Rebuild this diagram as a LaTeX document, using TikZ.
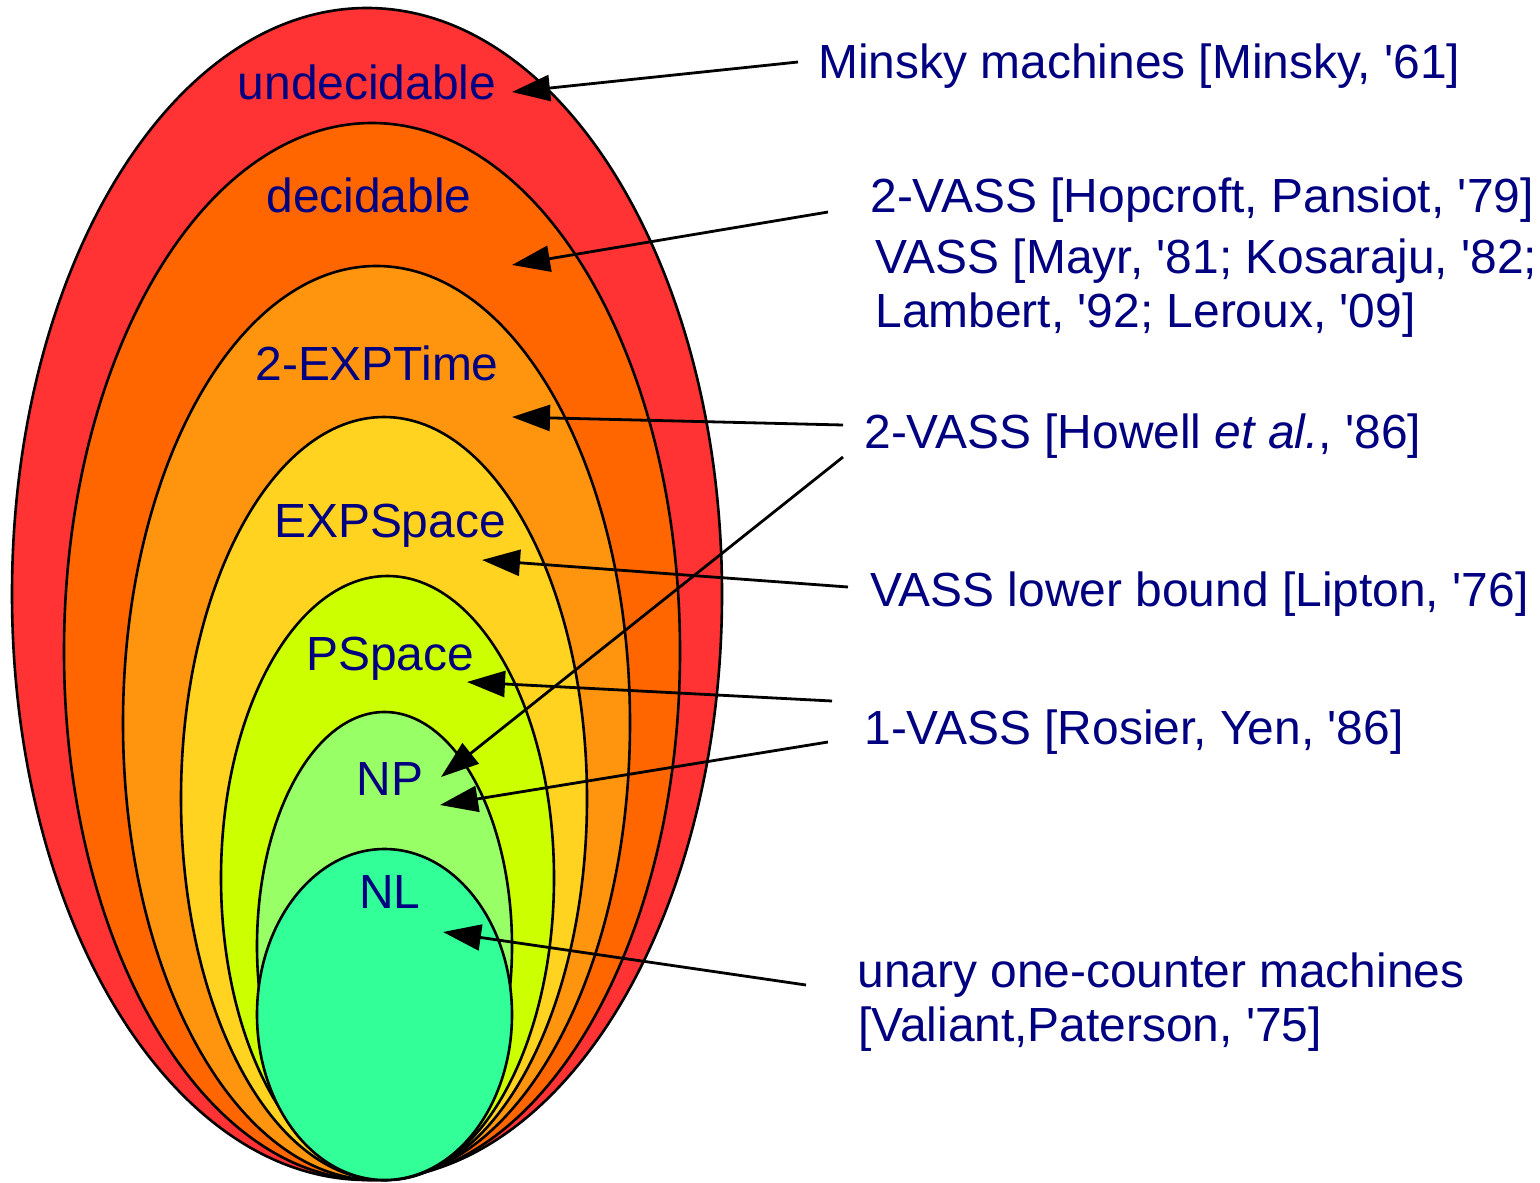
\documentclass[tikz,border=0pt]{standalone}
\usepackage{fontspec}
\setmainfont{Liberation Sans}[Ligatures=TeXOff]
\usetikzlibrary{arrows.meta}
\definecolor{cUndec}{HTML}{FF3333}
\definecolor{cDec}{HTML}{FF6600}
\definecolor{cTwoExp}{HTML}{FF950E}
\definecolor{cExpSp}{HTML}{FFD320}
\definecolor{cPSp}{HTML}{CCFF00}
\definecolor{cNP}{HTML}{99FF66}
\definecolor{cNL}{HTML}{33FF99}
\definecolor{txtnavy}{HTML}{000080}
\begin{document}
\begin{tikzpicture}[x=0.5pt,y=-0.5pt,
  region/.style={draw=black,line width=1.3pt},
  lab/.style={text=txtnavy,font=\fontsize{23.95}{28}\selectfont,inner sep=0pt,anchor=base},
  refl/.style={text=txtnavy,font=\fontsize{23.95}{28}\selectfont,inner sep=0pt,anchor=base west},
  pointer/.style={draw=black,line width=1.4pt,-{Triangle[length=19pt,width=13pt]}}]
\useasboundingbox (0,0) rectangle (1540,1182);
\fill[white] (0,0) rectangle (1540,1182);
% nested regions
\draw[region,fill=cUndec]  (367,594)   ellipse [x radius=177.5pt, y radius=293pt];
\draw[region,fill=cDec]    (372,651.5) ellipse [x radius=154pt,   y radius=264.25pt];
\draw[region,fill=cTwoExp] (376.5,723) ellipse [x radius=126.75pt,y radius=228.5pt];
\draw[region,fill=cExpSp]  (384,798.5) ellipse [x radius=101.5pt, y radius=190.75pt];
\draw[region,fill=cPSp]    (387.5,878) ellipse [x radius=83.25pt, y radius=151pt];
\draw[region,fill=cNP]     (384.5,946) ellipse [x radius=63.75pt, y radius=117pt];
\draw[region,fill=cNL]     (384.5,1014.5) ellipse [x radius=63.75pt, y radius=82.75pt];
% class labels
\node[lab] (undec)  at (367,100) {undecidable};
\node[lab] (dec)    at (369,213) {decidable};
\node[lab] (twoexp) at (377,380) {2-EXPTime};
\node[lab] (expsp)  at (390,537) {EXPSpace};
\node[lab] (psp)    at (390,670) {PSpace};
\node[lab] (np)     at (390,795) {NP};
\node[lab] (nl)     at (390,908) {NL};
% references
\node[refl] (minsky)  at (818,79)   {Minsky machines [Minsky, '61]};
\node[refl] (hop)     at (870,213)  {2-VASS [Hopcroft, Pansiot, '79]};
\node[refl] (mayr)    at (875,273)  {VASS [Mayr, '81; Kosaraju, '82;};
\node[refl] (lambert) at (875,327)  {Lambert, '92; Leroux, '09]};
\node[refl] (howell)  at (864,448)  {2-VASS [Howell \textit{et al.}, '86]};
\node[refl] (lipton)  at (870,606)  {VASS lower bound [Lipton, '76]};
\node[refl] (rosier)  at (864,744)  {1-VASS [Rosier, Yen, '86]};
\node[refl] (unary)   at (857,987)  {unary one-counter machines};
\node[refl] (valiant) at (858,1041) {[Valiant,Paterson, '75]};
% arrow ends
\coordinate (sMinsky) at (798,62);   \coordinate (eMinsky) at (512,92);
\coordinate (sHop)    at (828,212);  \coordinate (eHop)    at (512,265);
\coordinate (sHowA)   at (843,425);  \coordinate (eHowA)   at (512,417);
\coordinate (sHowB)   at (843,457);  \coordinate (eHowB)   at (441,777);
\coordinate (sLip)    at (848,587);  \coordinate (eLip)    at (482,560);
\coordinate (sRosA)   at (832,701);  \coordinate (eRosA)   at (467,682);
\coordinate (sRosB)   at (828,742);  \coordinate (eRosB)   at (440,805);
\coordinate (sVal)    at (806,985);  \coordinate (eVal)    at (443,932);
\draw[pointer] (sMinsky) -- (eMinsky);
\draw[pointer] (sHop) -- (eHop);
\draw[pointer] (sHowA) -- (eHowA);
\draw[pointer] (sHowB) -- (eHowB);
\draw[pointer] (sLip) -- (eLip);
\draw[pointer] (sRosA) -- (eRosA);
\draw[pointer] (sRosB) -- (eRosB);
\draw[pointer] (sVal) -- (eVal);
\end{tikzpicture}
\end{document}
